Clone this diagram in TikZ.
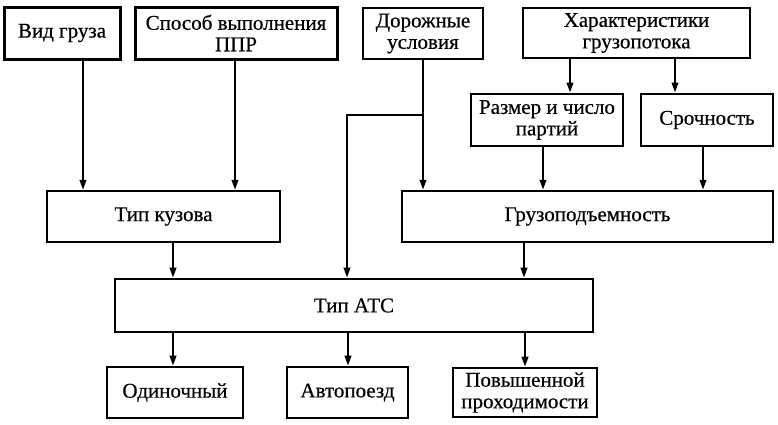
\documentclass[tikz,border=0pt]{standalone}
\usepackage{fontspec}
\setmainfont{Liberation Serif}
\newfontfamily\boxfont{Liberation Serif}[FakeBold=0.5]
\usetikzlibrary{arrows.meta}
\tikzset{
  box/.style={draw, line width=#1, inner sep=1pt, align=center, font=\boxfont\fontsize{21}{21.5}\selectfont},
  box/.default=2.4pt,
  arr/.style={line width=2.2pt, -{Triangle[length=10pt,width=6.5pt]}},
  ln/.style={line width=2.2pt}
}
\begin{document}
\begin{tikzpicture}[x=1pt,y=-1pt]
\useasboundingbox (0,0) rectangle (778,424);
% top row
\node[box=3pt, minimum width=116, minimum height=52] (vid) at (62,33) {Вид груза};
\node[box=3pt, minimum width=202, minimum height=52] (spos) at (236,33) {Способ выполнения\\ППР};
\node[box=2.8pt, minimum width=120, minimum height=51] (dor) at (423,33.5) {Дорожные\\условия};
\node[box=2.8pt, minimum width=227, minimum height=50] (har) at (636.5,33) {Характеристики\\грузопотока};
% second row
\node[box=2.8pt, minimum width=152, minimum height=52] (razm) at (547,120) {Размер и число\\партий};
\node[box=2.8pt, minimum width=132, minimum height=52] (sroch) at (707,120) {Срочность};
% third row
\node[box=2.2pt, minimum width=233, minimum height=51] (tipk) at (163.5,216.5) {Тип кузова};
\node[box=2.4pt, minimum width=371, minimum height=51] (gruz) at (587.5,216.5) {Грузоподъемность};
% ATS
\node[box=2.6pt, minimum width=478, minimum height=53] (ats) at (354,305.5) {Тип АТС};
% bottom row
\node[box=2.6pt, minimum width=136, minimum height=51] (odin) at (175,392.5) {Одиночный};
\node[box=2.6pt, minimum width=121, minimum height=51] (avto) at (347.5,392.5) {Автопоезд};
\node[box=2.6pt, minimum width=144, minimum height=49] (pov) at (525,392.5) {Повышенной\\проходимости};
% connectors
\draw[arr] ([xshift=21pt]vid.south) -- ([xshift=21pt]vid.south |- tipk.north);
\draw[arr] ([xshift=-1pt]spos.south) -- ([xshift=-1pt]spos.south |- tipk.north);
\coordinate (brY) at (0,115);
\coordinate (br) at (dor.south |- brY);
\coordinate (brl) at (347,115);
\draw[arr] (dor.south) -- (dor.south |- gruz.north);
\draw[arr] (br) -- (brl) -- (brl |- ats.north);
\draw[arr] ([xshift=-66.5pt]har.south) -- ([xshift=-66.5pt]har.south |- razm.north);
\draw[arr] ([xshift=38.5pt]har.south) -- ([xshift=38.5pt]har.south |- sroch.north);
\draw[arr] ([xshift=-4pt]razm.south) -- ([xshift=-4pt]razm.south |- gruz.north);
\draw[arr] ([xshift=-4pt]sroch.south) -- ([xshift=-4pt]sroch.south |- gruz.north);
\draw[arr] ([xshift=9.5pt]tipk.south) -- ([xshift=9.5pt]tipk.south |- ats.north);
\draw[arr] ([xshift=-63.5pt]gruz.south) -- ([xshift=-63.5pt]gruz.south |- ats.north);
\draw[arr] ([xshift=-2pt]odin.north |- ats.south) -- ([xshift=-2pt]odin.north);
\draw[arr] ([xshift=0.5pt]avto.north |- ats.south) -- ([xshift=0.5pt]avto.north);
\draw[arr] (pov.north |- ats.south) -- (pov.north);
\end{tikzpicture}
\end{document}
